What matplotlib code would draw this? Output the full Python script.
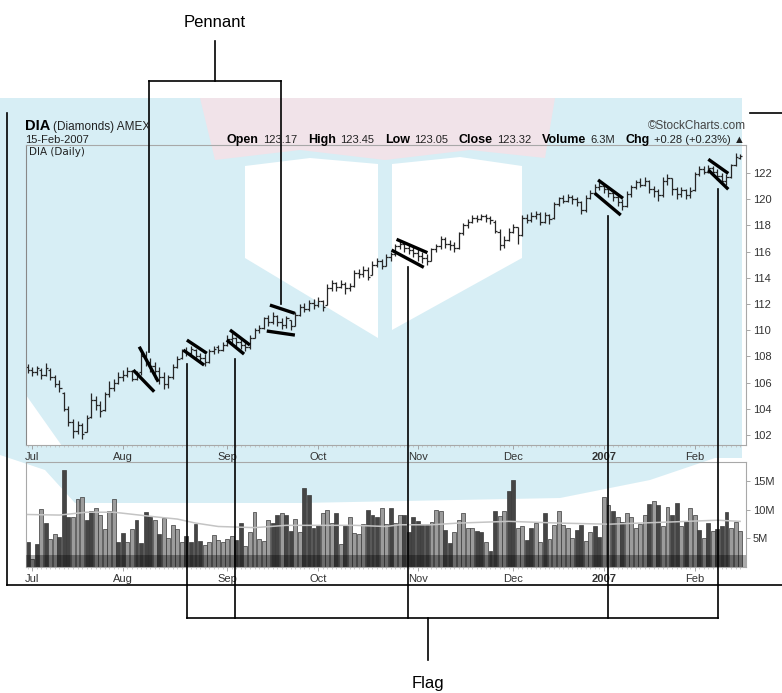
import matplotlib
matplotlib.use("Agg")
import matplotlib.pyplot as plt
from matplotlib.patches import Polygon
import numpy as np

# ---------------- data ----------------
month_labels = ["Jul", "Aug", "Sep", "Oct", "Nov", "Dec", "2007", "Feb"]
month_index = [1, 21, 44, 64, 86, 107, 127, 147]

opens = [107.2, 107.0, 106.8, 107.0, 106.6, 107.0, 106.4, 105.9, 105.2, 104.0,
         103.0, 102.3, 102.8, 102.2, 103.4, 104.7, 104.3, 103.9, 105.1, 105.6,
         106.0, 106.4, 106.6, 106.9, 106.3, 106.8, 108.0, 107.6, 107.3, 106.9,
         106.4, 105.9, 106.4, 107.2, 107.9, 108.4, 108.3, 108.5, 108.0, 107.9,
         107.6, 108.4, 108.7, 108.5, 108.9, 109.3, 109.4, 109.1, 108.9, 108.7,
         109.4, 110.0, 110.2, 110.9, 110.6, 111.1, 110.6, 110.4, 110.8, 110.3,
         111.2, 111.8, 111.6, 112.1, 111.9, 112.2, 111.9, 113.2, 113.6, 113.3,
         113.5, 113.2, 113.4, 114.4, 114.3, 114.6, 114.2, 115.0, 115.3, 114.9,
         115.6, 115.8, 116.4, 116.6, 116.3, 116.1, 115.9, 115.7, 115.5, 115.3,
         116.2, 116.4, 117.0, 116.6, 116.5, 116.3, 117.4, 118.0, 118.3, 118.6,
         118.5, 118.7, 118.6, 118.3, 117.5, 116.5, 116.9, 117.5, 117.9, 117.3,
         118.6, 118.4, 118.7, 118.9, 118.3, 118.8, 118.6, 119.6, 120.1, 119.9,
         120.2, 120.0, 119.8, 119.2, 120.1, 120.5, 120.9, 121.0, 120.8, 120.5,
         120.2, 119.8, 119.5, 120.4, 120.9, 121.3, 121.1, 121.4, 120.8, 120.6,
         120.3, 121.4, 121.6, 120.8, 120.4, 120.7, 120.3, 120.7, 121.9, 122.3,
         122.1, 122.4, 122.1, 121.8, 121.4, 121.7, 122.6, 123.17]

highs = [107.4, 107.2, 107.3, 107.1, 107.5, 107.1, 106.6, 106.2, 105.3, 104.2,
         103.2, 103.1, 102.9, 103.5, 105.2, 105.0, 104.6, 105.3, 106.1, 106.3,
         106.8, 107.0, 107.2, 107.0, 106.9, 108.3, 108.4, 107.9, 107.6, 107.2,
         106.8, 106.6, 107.4, 108.0, 108.6, 108.7, 108.8, 108.6, 108.3, 108.2,
         108.6, 108.8, 108.9, 109.1, 109.6, 109.8, 109.5, 109.4, 109.2, 109.6,
         110.2, 110.4, 111.0, 111.2, 111.4, 111.2, 110.9, 111.1, 110.8, 111.4,
         112.0, 112.1, 112.3, 112.4, 112.5, 112.3, 113.5, 113.8, 113.7, 113.8,
         113.7, 113.6, 114.6, 114.7, 114.9, 114.8, 115.3, 115.5, 115.4, 115.8,
         116.0, 116.6, 116.8, 116.7, 116.5, 116.4, 116.2, 116.0, 115.8, 116.3,
         116.6, 117.2, 117.1, 116.9, 116.7, 117.5, 118.2, 118.5, 118.8, 118.8,
         118.9, 118.9, 118.7, 118.4, 117.7, 117.2, 117.8, 118.1, 117.9, 118.8,
         118.9, 119.0, 119.1, 119.0, 119.0, 118.9, 119.8, 120.2, 120.3, 120.4,
         120.3, 120.2, 119.9, 120.3, 120.7, 121.2, 121.3, 121.2, 121.0, 120.7,
         120.4, 120.0, 120.6, 121.1, 121.5, 121.6, 121.7, 121.5, 121.0, 120.8,
         121.7, 121.9, 121.6, 120.9, 120.9, 120.8, 120.9, 122.1, 122.5, 122.5,
         122.6, 122.5, 122.3, 122.0, 121.9, 122.7, 123.5, 123.45]

lows = [106.7, 106.5, 106.6, 106.3, 106.5, 106.2, 105.7, 105.3, 103.8, 102.7,
        101.8, 102.1, 101.7, 102.2, 103.3, 103.9, 103.4, 103.8, 104.9, 105.4,
        105.9, 106.1, 106.4, 106.1, 106.2, 106.6, 107.3, 106.8, 106.3, 105.9,
        105.5, 105.6, 106.3, 107.1, 107.8, 108.0, 108.1, 107.8, 107.6, 107.3,
        107.5, 108.2, 108.3, 108.4, 108.8, 109.0, 108.8, 108.6, 108.4, 108.6,
        109.4, 109.8, 110.1, 110.3, 110.5, 110.3, 110.1, 110.2, 110.0, 110.3,
        111.1, 111.4, 111.5, 111.6, 111.8, 111.5, 111.9, 113.0, 113.0, 113.2,
        112.8, 113.0, 113.3, 114.0, 114.1, 113.8, 114.2, 114.8, 114.7, 114.9,
        115.3, 115.7, 116.2, 116.0, 115.8, 115.6, 115.3, 115.1, 115.0, 115.3,
        116.0, 116.2, 116.3, 116.1, 116.0, 116.2, 117.3, 117.8, 118.2, 118.3,
        118.4, 118.3, 118.1, 117.4, 116.1, 116.3, 116.8, 117.4, 116.6, 117.2,
        118.2, 118.3, 118.5, 118.0, 118.2, 118.1, 118.5, 119.5, 119.7, 119.8,
        119.6, 119.5, 118.9, 119.0, 120.0, 120.4, 120.7, 120.5, 120.2, 119.9,
        119.5, 119.2, 119.4, 120.2, 120.8, 120.9, 121.0, 120.5, 120.2, 119.9,
        120.2, 121.1, 120.3, 120.0, 120.2, 120.0, 120.1, 120.6, 121.8, 121.9,
        122.0, 121.9, 121.5, 121.2, 121.1, 121.6, 122.5, 123.05]

closes = [107.0, 106.8, 107.1, 106.6, 107.1, 106.4, 105.9, 105.6, 104.0, 103.0,
          102.3, 102.8, 102.1, 103.3, 104.7, 104.3, 103.8, 105.1, 105.6, 106.0,
          106.4, 106.6, 106.9, 106.3, 106.7, 108.0, 107.6, 107.3, 106.9, 106.4,
          105.9, 106.4, 107.2, 107.8, 108.4, 108.3, 108.6, 108.0, 107.9, 107.6,
          108.4, 108.6, 108.5, 108.9, 109.3, 109.4, 109.1, 108.9, 108.7, 109.4,
          110.0, 110.2, 110.9, 110.6, 111.1, 110.6, 110.4, 110.9, 110.3, 111.2,
          111.8, 111.6, 112.1, 111.9, 112.2, 111.8, 113.2, 113.6, 113.3, 113.5,
          113.2, 113.4, 114.4, 114.3, 114.6, 114.1, 115.0, 115.3, 114.9, 115.6,
          115.8, 116.4, 116.6, 116.3, 116.1, 115.9, 115.7, 115.5, 115.3, 116.2,
          116.4, 117.0, 116.6, 116.5, 116.3, 117.4, 118.0, 118.3, 118.6, 118.5,
          118.7, 118.6, 118.4, 117.6, 116.5, 116.9, 117.5, 117.9, 117.3, 118.6,
          118.4, 118.7, 118.9, 118.3, 118.8, 118.5, 119.6, 120.1, 119.9, 120.2,
          120.0, 119.8, 119.2, 120.1, 120.5, 120.9, 121.0, 120.8, 120.5, 120.2,
          119.8, 119.5, 120.4, 120.9, 121.3, 121.1, 121.4, 120.8, 120.6, 120.3,
          121.4, 121.6, 120.8, 120.4, 120.7, 120.3, 120.6, 121.9, 122.3, 122.1,
          122.4, 122.1, 121.8, 121.4, 121.7, 122.6, 123.2, 123.32]

volume_m = [4.3, 1.4, 4.0, 10.1, 7.7, 4.9, 5.7, 5.3, 17.0, 8.8,
            8.8, 12.0, 12.2, 8.2, 9.8, 10.3, 9.1, 6.7, 9.8, 12.0,
            4.3, 5.9, 4.3, 6.7, 8.2, 4.2, 9.6, 9.0, 8.2, 5.7,
            8.5, 5.0, 7.3, 6.7, 4.3, 5.5, 4.3, 7.5, 4.6, 3.9,
            4.3, 5.6, 4.7, 4.3, 4.9, 5.5, 4.7, 7.7, 3.6, 6.1,
            9.6, 4.9, 4.6, 8.2, 7.7, 9.2, 9.4, 9.2, 6.3, 8.4,
            6.1, 13.8, 12.6, 6.9, 7.3, 9.4, 10.0, 7.7, 9.4, 4.0,
            7.4, 8.8, 5.9, 5.7, 7.5, 10.0, 9.1, 8.8, 10.4, 7.5,
            10.4, 7.7, 9.2, 9.2, 6.1, 8.8, 8.1, 7.4, 7.4, 7.8,
            10.0, 9.8, 6.5, 4.2, 6.1, 8.2, 9.4, 6.9, 6.9, 6.3,
            6.1, 4.3, 2.8, 9.8, 9.0, 9.8, 13.3, 15.3, 6.9, 7.1,
            4.7, 6.9, 7.7, 4.3, 9.4, 4.9, 7.3, 9.8, 7.3, 6.9,
            5.1, 6.5, 7.3, 4.6, 6.1, 7.1, 5.3, 12.2, 10.8, 9.8,
            8.7, 7.8, 9.4, 8.8, 6.9, 7.5, 9.2, 11.0, 11.6, 10.9,
            7.1, 10.6, 9.2, 11.2, 7.1, 8.1, 10.4, 9.2, 6.5, 5.1,
            7.7, 6.3, 6.7, 7.1, 9.6, 6.9, 7.8, 6.3]

# 'l' = light (up) volume bar, 'd' = dark (down) volume bar
volume_shade = ("dldldllddd" "lllddlllll" "ddllddddld" "lllllddddl" "llllllddll"
                "llllddlddl" "lddddllldl" "dlllldddlld" "llddddddll" "lddllllldd"
                "lddllddlld" "dlldllllll" "ddllddlldl" "dllllldldl" "lddldlldld"
                "ldddlll")

vol_ma_index = [0, 7, 13, 19, 28, 33, 37, 42, 50, 57, 64, 72, 79, 82, 89, 95, 106, 117, 128, 142, 152, 157]
vol_ma_value = [9.2, 9.1, 9.6, 9.6, 8.8, 8.4, 7.7, 7.1, 6.9, 7.3, 7.3, 7.3, 7.1, 7.4, 7.4, 7.7, 8.0, 7.7, 7.5, 7.9, 8.2, 8.0]

price_ticks = [102, 104, 106, 108, 110, 112, 114, 116, 118, 120, 122]
volume_ticks = [5, 10, 15]
volume_tick_labels = ["5M", "10M", "15M"]

# hand-drawn pattern lines (bar index, price)
pattern_x0 = [24.6, 23.3, 35.1, 34.3, 44.6, 43.9, 53.4, 52.7, 81.3, 80.2, 125.7, 125.0, 150.0, 150.0]
pattern_y0 = [108.74, 106.96, 109.25, 108.49, 110.02, 109.25, 111.92, 109.94, 116.94, 116.12, 121.47, 120.45, 123.05, 122.23]
pattern_x1 = [28.8, 27.9, 39.5, 38.9, 49.0, 47.7, 58.9, 58.9, 88.1, 87.3, 131.2, 130.7, 154.4, 154.4]
pattern_y1 = [106.07, 105.31, 108.24, 107.34, 108.87, 108.18, 111.29, 109.63, 115.92, 114.80, 120.07, 118.79, 121.97, 120.76]

# callout brackets
pennant_x = [26.8, 55.85]
pennant_tip = [108.34, 112.0]
flag_x = [35.1, 45.7, 83.8, 127.9, 152.1]
flag_tip = [107.42, 107.8, 114.82, 118.72, 120.78]

# ---------------- figure ----------------
W, H = 782, 693
fig = plt.figure(figsize=(W / 100, H / 100), dpi=100)
fig.patch.set_facecolor("white")


def frac(x, y):
    return (x / W, 1 - y / H)


def rect(l, t, r, b):
    return [l / W, 1 - b / H, (r - l) / W, (b - t) / H]


# watermark-like background tints
BLUE = "#d7eef5"
bg_shapes = [
    ([(0, 98), (742, 98), (742, 458), (715, 458), (650, 480), (560, 498), (300, 503),
      (75, 503), (45, 470), (0, 455)], BLUE),
    ([(26, 395), (26, 446), (62, 446)], "white"),
    ([(245, 166), (310, 158), (378, 164), (378, 338), (245, 258)], "white"),
    ([(392, 164), (460, 157), (522, 166), (522, 258), (392, 330)], "white"),
    ([(200, 98), (555, 98), (545, 158), (470, 150), (385, 160), (300, 150), (215, 160)], "#f1e3e9"),
]
for pts, col in bg_shapes:
    fig.patches.append(Polygon([frac(*p) for p in pts], closed=True, transform=fig.transFigure,
                               facecolor=col, edgecolor="none", zorder=0))

# frame lines of the book figure
frame = [((7, 113), (7, 585)), ((7, 585), (782, 585)), ((750, 113), (782, 113))]
for (x0, y0), (x1, y1) in frame:
    fig.add_artist(plt.Line2D([x0 / W, x1 / W], [1 - y0 / H, 1 - y1 / H], transform=fig.transFigure,
                              color="black", lw=1.2))

SPINE = "#a8a8a8"
TICK_FONT = dict(family=["Liberation Sans", "DejaVu Sans"], size=8)

# ---- price panel ----
ax = fig.add_axes(rect(26, 145, 746, 445))
ax.set_facecolor("none")
ax.set_zorder(3)
x = np.arange(len(closes))
ax.vlines(x, lows, highs, color="#262626", lw=0.9)
ax.hlines(opens, x - 0.5, x, color="#262626", lw=0.9)
ax.hlines(closes, x, x + 0.5, color="#262626", lw=0.9)
ax.set_xlim(-0.35, 158.3)
ax.set_ylim(101.24, 124.14)
for s in ax.spines.values():
    s.set_color(SPINE)
    s.set_linewidth(0.8)
ax.spines["left"].set_color("#888888")
ax.yaxis.tick_right()
ax.set_yticks(price_ticks)
ax.set_yticklabels([str(t) for t in price_ticks], **TICK_FONT, color="#333333")
ax.set_xticks(month_index)
ax.set_xticklabels(month_labels, **TICK_FONT, color="#333333")
ax.set_xticks(x, minor=True)
ax.tick_params(axis="y", which="major", length=3, width=0.6, color="#999999", pad=2)
ax.tick_params(axis="x", which="major", length=3, width=0.6, color="#999999", pad=2)
ax.tick_params(axis="x", which="minor", length=1.5, width=0.5, color="#bbbbbb")
for lab in ax.get_xticklabels():
    if lab.get_text() == "2007":
        lab.set_fontweight("bold")

ax.text(0.004, 0.992, "DIA (Daily)", transform=ax.transAxes, ha="left", va="top",
        family="DejaVu Sans", size=7.5, color="#222222")

# pattern lines
for a0, b0, a1, b1 in zip(pattern_x0, pattern_y0, pattern_x1, pattern_y1):
    ax.plot([a0, a1], [b0, b1], color="black", lw=2.4, solid_capstyle="butt", zorder=5)

# callouts (drawn in price coordinates, outside the axes)
LBL = dict(family=["Liberation Sans Narrow", "Liberation Sans", "DejaVu Sans"], size=12,
           color="black", ha="center", va="center")
top_y = 129.0
for xx, tip in zip(pennant_x, pennant_tip):
    ax.plot([xx, xx], [top_y, tip], color="black", lw=1.2, clip_on=False, zorder=6)
ax.plot([pennant_x[0], pennant_x[1]], [top_y, top_y], color="black", lw=1.2, clip_on=False, zorder=6)
pmid = sum(pennant_x) / 2
ax.plot([pmid, pmid], [top_y, 132.1], color="black", lw=1.2, clip_on=False, zorder=6)
ax.text(pmid, 133.5, "Pennant", clip_on=False, **LBL)

bot_y = 88.03
for xx, tip in zip(flag_x, flag_tip):
    ax.plot([xx, xx], [bot_y, tip], color="black", lw=1.2, clip_on=False, zorder=6)
ax.plot([flag_x[0], flag_x[-1]], [bot_y, bot_y], color="black", lw=1.2, clip_on=False, zorder=6)
fmid = 88.2
ax.plot([fmid, fmid], [bot_y, 84.8], color="black", lw=1.2, clip_on=False, zorder=6)
ax.text(fmid, 83.0, "Flag", clip_on=False, **LBL)

# ---- volume panel ----
vx = fig.add_axes(rect(26, 462, 746, 567))
vx.set_facecolor("none")
vx.set_zorder(2)
cols = ["#9c9c9c" if c == "l" else "#454545" for c in volume_shade]
vx.bar(np.arange(len(volume_m)), volume_m, width=0.86, color=cols, edgecolor="#3a3a3a", linewidth=0.5)
vx.axhspan(0, 2.1, color="black", alpha=0.32, lw=0, zorder=3)
vx.plot(vol_ma_index, vol_ma_value, color="#c4c4c4", lw=1.1, zorder=4)
vx.set_xlim(-0.35, 158.3)
vx.set_ylim(0, 18.4)
for s in vx.spines.values():
    s.set_color(SPINE)
    s.set_linewidth(0.8)
    s.set_linestyle((0, (1, 1)))
vx.yaxis.tick_right()
vx.set_yticks(volume_ticks)
vx.set_yticklabels(volume_tick_labels, **TICK_FONT, color="#333333")
vx.set_xticks(month_index)
vx.set_xticklabels(month_labels, **TICK_FONT, color="#333333")
vx.set_xticks(np.arange(len(volume_m)), minor=True)
vx.tick_params(axis="both", which="major", length=3, width=0.6, color="#999999", pad=2)
vx.tick_params(axis="x", which="minor", length=1.5, width=0.5, color="#bbbbbb")
for lab in vx.get_xticklabels():
    if lab.get_text() == "2007":
        lab.set_fontweight("bold")

# ---- header ----
HF = ["Liberation Sans", "DejaVu Sans"]
renderer = fig.canvas.get_renderer()


def chain(x0, y0, parts, align="left"):
    arts, xpos = [], x0
    for s, kw, gap in parts:
        t = fig.text(xpos / W, 1 - y0 / H, s, family=HF, va="baseline", ha="left", **kw)
        w = t.get_window_extent(renderer).width
        arts.append((t, xpos))
        xpos += w + gap
    if align == "right":
        total = xpos - parts[-1][2] - x0
        for t, xp in arts:
            t.set_x((xp - total) / W)


B9 = dict(weight="bold", size=9, color="black")
N8 = dict(size=8, color="#222222")
chain(25, 130, [("DIA", dict(weight="bold", size=10.5, color="black"), 3),
                ("(Diamonds) AMEX", dict(size=8.5, color="#222222"), 0)])
fig.text(25 / W, 1 - 143 / H, "15-Feb-2007", family=HF, size=8, color="#222222", va="baseline")
fig.text(746 / W, 1 - 129 / H, "©StockCharts.com", family=HF, size=8.5, color="#444444",
         va="baseline", ha="right")
stats = [("Open", B9, 4), ("123.17", N8, 11), ("High", B9, 4), ("123.45", N8, 11),
         ("Low", B9, 4), ("123.05", N8, 11), ("Close", B9, 4), ("123.32", N8, 11),
         ("Volume", B9, 4), ("6.3M", N8, 11), ("Chg", B9, 4), ("+0.28 (+0.23%) ▲", N8, 0)]
chain(745, 143, stats, align="right")

fig.savefig("out.png", dpi=100, facecolor="white")
